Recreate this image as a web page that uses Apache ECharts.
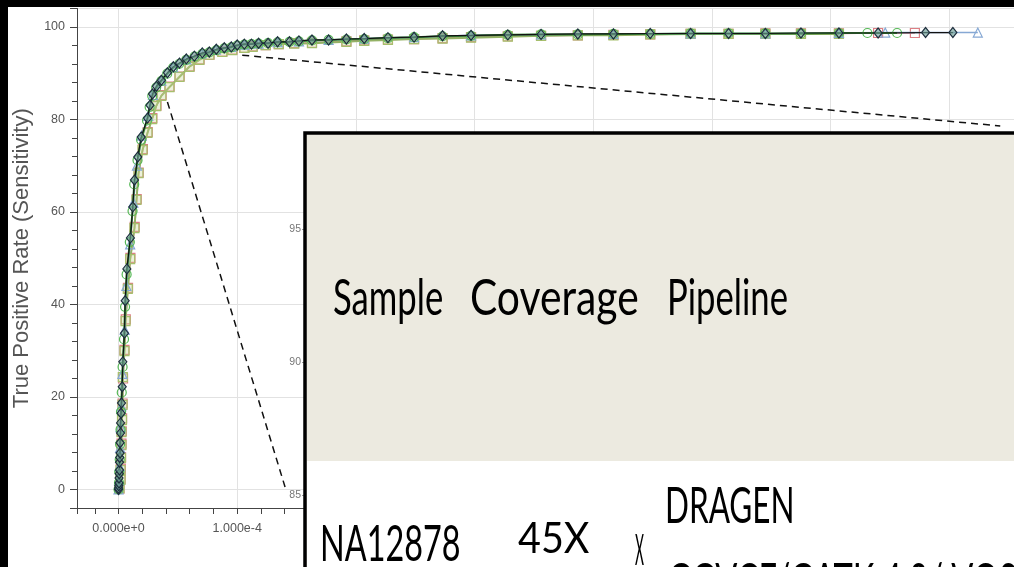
<!DOCTYPE html>
<html><head><meta charset="utf-8">
<script src="https://cdn.jsdelivr.net/npm/echarts@6/dist/echarts.min.js"></script>
<style>html,body{margin:0;padding:0;background:#fff;overflow:hidden}#c{width:1014px;height:567px}</style>
</head><body><div id="c"></div>
<script>
// x values in units of 1e-5 (False Positive Rate), y in % (True Positive Rate)
const diamondSeries = [[0,0],[0,0.3],[0.02,0.8],[0.04,1.4],[0.04,2.5],[0.06,3.4],[0.08,4.2],[0.08,5.9],[0.1,6.9],[0.13,7.9],[0.13,10.1],[0.17,12.2],[0.17,14.4],[0.21,16.5],[0.25,18.7],[0.31,22.2],[0.36,27.6],[0.5,33.8],[0.56,40.8],[0.7,47.7],[1.0,54.4],[1.2,61.1],[1.34,66.9],[1.62,71.9],[1.91,76.2],[2.44,80.3],[2.65,83.1],[2.86,85.5],[3.19,87.2],[3.61,88.5],[4.12,90.1],[4.62,91.4],[5.13,92.2],[5.71,93.1],[6.39,93.7],[7.06,94.4],[7.65,94.6],[8.24,95.2],[8.91,95.5],[9.5,95.7],[10.0,96.1],[10.6,96.3],[11.2,96.3],[11.8,96.5],[12.6,96.5],[13.4,96.8],[14.4,96.8],[15.2,97.0],[16.3,97.2],[17.7,97.2],[19.2,97.4],[20.7,97.5],[22.7,97.7],[24.9,97.8],[27.3,98.1],[29.7,98.2],[32.8,98.3],[35.6,98.4],[38.7,98.5],[41.7,98.5],[44.8,98.6],[48.2,98.6],[51.4,98.6],[54.5,98.6],[57.5,98.7],[60.7,98.7],[64.0,98.7],[68.0,98.8],[70.3,98.8]];
const oliveSquareSeries = [[0.08,0.3],[0.17,2.1],[0.17,4.2],[0.21,6.8],[0.25,9.6],[0.25,12.4],[0.29,15.0],[0.34,18.3],[0.36,24.3],[0.5,29.9],[0.59,36.4],[0.78,43.4],[0.98,49.8],[1.34,56.5],[1.51,62.6],[1.68,68.4],[2.02,73.4],[2.44,77.1],[2.83,80.1],[3.17,82.9],[3.61,85.1],[4.29,87.0],[5.13,89.2],[5.97,91.4],[6.81,92.9],[7.65,94.0],[8.74,94.6],[9.58,95.0],[10.6,95.5],[11.3,95.7],[12.4,96.1],[13.5,96.3],[14.8,96.4],[16.3,96.5],[19.2,96.8],[20.7,97.0],[22.7,97.2],[24.9,97.4],[27.3,97.5],[29.7,97.7],[32.8,97.9],[35.6,98.1],[38.7,98.2],[41.7,98.2],[44.8,98.4],[48.2,98.5],[51.4,98.5],[54.5,98.5],[57.5,98.5],[60.7,98.5]];
const redSquareSeries = [[0.08,0.2],[0.17,2.3],[0.19,4.5],[0.21,7.0],[0.25,9.9],[0.27,12.6],[0.3,15.4],[0.34,18.6],[0.38,24.0],[0.5,30.2],[0.61,36.8],[0.8,43.6],[1.0,50.1],[1.36,56.8],[1.53,62.8],[1.7,68.5],[2.05,73.6],[2.46,77.3],[2.85,80.3],[3.2,83.0],[3.63,85.3],[4.3,87.1],[5.15,89.3],[6.0,91.5],[6.83,93.0],[7.67,94.0],[8.76,94.7],[9.6,95.1],[10.6,95.5],[11.3,95.8],[12.4,96.1],[13.5,96.3],[14.8,96.5],[16.3,96.6],[19.2,96.9],[20.7,97.1],[22.7,97.3],[24.9,97.4],[27.3,97.6],[29.7,97.8],[32.8,98.0],[35.6,98.1],[38.7,98.2],[41.7,98.3],[44.8,98.4],[48.2,98.5],[51.4,98.5],[54.5,98.6],[57.5,98.6],[60.7,98.6],[64.0,98.7],[67.1,98.7]];
const greenCircleSeries = [[0,0],[0.04,1.5],[0.06,3.8],[0.1,6.5],[0.13,9.8],[0.17,13.0],[0.21,16.8],[0.27,21.0],[0.34,26.5],[0.46,32.5],[0.55,39.5],[0.68,46.5],[0.95,53.5],[1.18,60.2],[1.32,66.0],[1.6,71.2],[1.9,75.6],[2.4,79.8],[2.62,82.7],[2.84,85.1],[3.17,86.9],[3.6,88.3],[4.1,89.9],[4.6,91.2],[5.1,92.0],[5.7,92.9],[6.4,93.6],[7.05,94.2],[7.65,94.5],[8.25,95.0],[8.9,95.4],[9.5,95.6],[10.0,96.0],[10.6,96.2],[11.2,96.3],[11.8,96.4],[12.6,96.5],[13.4,96.7],[14.4,96.8],[15.2,96.9],[16.3,97.1],[17.7,97.2],[19.2,97.3],[20.7,97.4],[22.7,97.6],[24.9,97.8],[27.3,98.0],[29.7,98.1],[32.8,98.3],[35.6,98.4],[38.7,98.4],[41.7,98.5],[44.8,98.5],[48.2,98.6],[51.4,98.6],[54.5,98.6],[57.5,98.6],[60.7,98.7],[63.1,98.7],[65.6,98.7]];
const blueTriangleSeries = [[0,0],[0.04,2.0],[0.08,5.0],[0.13,9.0],[0.17,13.5],[0.23,18.0],[0.33,25.0],[0.52,34.5],[0.66,44.0],[0.98,53.0],[1.25,62.0],[1.55,70.0],[1.95,76.5],[2.5,80.8],[2.9,85.3],[3.6,88.4],[4.6,91.3],[5.7,93.0],[7.0,94.3],[8.2,95.1],[9.5,95.7],[10.6,96.2],[11.8,96.4],[13.4,96.7],[15.2,96.9],[17.7,97.2],[20.7,97.5],[24.9,97.8],[29.7,98.2],[35.6,98.4],[41.7,98.5],[48.2,98.6],[54.5,98.6],[60.7,98.7],[64.6,98.8],[72.4,98.8]];
// zoom guide lines (dashed) toward inset
const zoomLineA = [[4.12,83.8],[14.03,0.54]];
const zoomLineB = [[10.42,93.9],[74.29,78.6]];
// table overlay text
const headerCells = ['Sample','Coverage','Pipeline'];
const rowCells = ['NA12878','45X','x','DRAGEN','GGVCF/GATK 4.0/ VQSR'];
const yAxisTitle = 'True Positive Rate (Sensitivity)';

const chart = echarts.init(document.getElementById('c'), null, {renderer:'canvas'});

function lineSeries(data, symbol, size, fill, border, lineColor, lw, z){
  return {type:'line', xAxisIndex:0, yAxisIndex:0, data:data, symbol:symbol, symbolSize:size,
    showAllSymbol:true, z:z, lineStyle:{color:lineColor, width:lw},
    itemStyle:{color:fill, borderColor:border, borderWidth:1.2}, emphasis:{disabled:true}};
}
const FONT = 'Lato';
function txt(s, x, y, size, sx){
  return {type:'text', x:x, y:y, scaleX:sx, z:60, style:{text:s, fontFamily:FONT, fontSize:size, fill:'#000', align:'left', verticalAlign:'middle'}};
}

const option = {
  backgroundColor:'#fff',
  animation:false,
  grid:[{left:77, top:8.5, width:991, height:499.5, outerBoundsMode:'none', containLabel:false},
        {left:305, top:149, width:100, height:346, outerBoundsMode:'none', containLabel:false}],
  xAxis:[{gridIndex:0, type:'value', min:-3.5, max:80, splitNumber:8,
      axisLine:{show:true, onZero:false, lineStyle:{color:'#444', width:1}},
      axisTick:{show:true, length:6, lineStyle:{color:'#444'}},
      minorTick:{show:true, splitNumber:5, length:6, lineStyle:{color:'#444'}},
      axisLabel:{color:'#555', fontSize:12.5, fontFamily:'Liberation Sans', margin:14, showMinLabel:false, showMaxLabel:false,
        formatter:v => (v/1e5).toExponential(3)},
      splitLine:{show:true, lineStyle:{color:'#e2e2e2'}}},
    {gridIndex:1, type:'value', show:false}],
  yAxis:[{gridIndex:0, type:'value', min:-4, max:104, splitNumber:5,
      name:yAxisTitle, nameLocation:'middle', nameGap:40,
      nameTextStyle:{fontSize:22, color:'#555', fontFamily:'Liberation Sans'},
      axisLine:{show:true, onZero:false, lineStyle:{color:'#444', width:1}},
      axisTick:{show:true, length:7, lineStyle:{color:'#444'}},
      minorTick:{show:true, splitNumber:5, length:5, lineStyle:{color:'#444'}},
      axisLabel:{color:'#555', fontSize:12.5, fontFamily:'Liberation Sans', margin:12, showMinLabel:false, showMaxLabel:false},
      splitLine:{show:true, lineStyle:{color:'#e2e2e2'}}},
    {gridIndex:1, type:'value', min:85, max:98, interval:5,
      axisLine:{show:false}, axisTick:{show:true, length:3, lineStyle:{color:'#999'}},
      axisLabel:{color:'#777', fontSize:10.5, fontFamily:'Liberation Sans Narrow, Liberation Sans', margin:4, showMaxLabel:false},
      splitLine:{show:false}}],
  series:[
    lineSeries(redSquareSeries, 'rect', 9, 'rgba(255,255,255,0)', '#dd7f85', '#d9858a', 1.5, 2),
    lineSeries(oliveSquareSeries, 'rect', 9, 'rgba(200,215,150,0.35)', '#a6bf6c', '#94b266', 2, 3),
    lineSeries(blueTriangleSeries, 'triangle', 9, 'rgba(255,255,255,0)', '#86a8d4', '#86a8d4', 1.5, 4),
    lineSeries(greenCircleSeries, 'circle', 9, 'rgba(255,255,255,0)', '#55b855', '#3a8a3a', 2, 5),
    lineSeries(diamondSeries, 'diamond', [8,10], 'rgba(110,160,150,0.65)', '#1d2d3d', '#111', 1.2, 6),
    {type:'line', data:zoomLineA, symbol:'none', z:7, lineStyle:{color:'#111', width:1.5, type:[7,5]}, emphasis:{disabled:true}},
    {type:'line', data:zoomLineB, symbol:'none', z:7, lineStyle:{color:'#111', width:1.5, type:[7,5]}, emphasis:{disabled:true}}
  ],
  graphic:[
    {type:'rect', z:50, shape:{x:305, y:133, width:760, height:480}, style:{fill:'#ECEAE0', stroke:'#000', lineWidth:3.5}},
    {type:'rect', z:51, shape:{x:307, y:461, width:760, height:160}, style:{fill:'#fff'}},
    txt(headerCells[0], 333, 299, 51, 0.68),
    txt(headerCells[1], 470, 299, 51, 0.80),
    txt(headerCells[2], 667, 299, 51, 0.68),
    txt(rowCells[0], 320, 545, 51, 0.635),
    txt(rowCells[1], 518, 539, 42, 0.94),
    txt('X', 635, 551, 42, 0.33),
    txt(rowCells[3], 665, 507, 51, 0.617),
    txt(rowCells[4], 668, 583, 51, 0.64),
    {type:'rect', z:100, shape:{x:0, y:0, width:8, height:567}, style:{fill:'#000'}},
    {type:'rect', z:100, shape:{x:0, y:0, width:1014, height:7}, style:{fill:'#000'}}
  ]
};
chart.setOption(option);
</script></body></html>
